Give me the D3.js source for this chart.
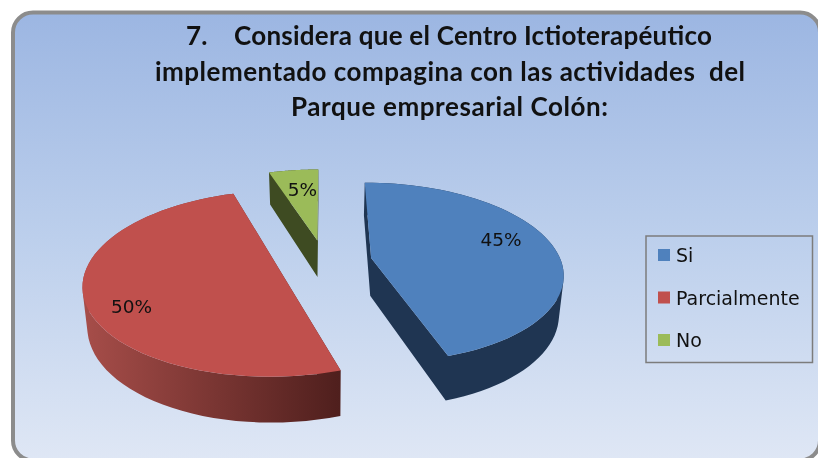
<!DOCTYPE html>
<html>
<head>
<meta charset="utf-8">
<script src="https://cdn.jsdelivr.net/npm/d3@7"></script>
<style>
    html, body { margin: 0; padding: 0; background: #fff; overflow: hidden; }
    svg { display: block; filter: blur(0.6px); }
</style>
</head>
<body>
<div id="graph"></div>
<script>
const categories = ["Si", "Parcialmente", "No"];
const values = [45, 50, 5];
const sliceColors = ["#4f81bd", "#c0504d", "#9bbb59"];
const titleLines = [
    "7.    Considera que el Centro Ictioterapéutico",
    "implementado compagina con las actividades  del",
    "Parque empresarial Colón:"
];

const width = 818;
const height = 458;

// pie is a flat disc seen in perspective, world units are pie radii
const explode = 0.25;
const tilt = 0.16;
const depth = 38;
const bottomShrink = 0.98;
const xScale = d3.scaleLinear().domain([-1, 1]).range([134.5, 514.5]);
const yScale = d3.scaleLinear().domain([-1, 1]).range([173, 350]);

function project(u, v) {
    let w = 1 - tilt * v;
    return {x: xScale(u / w), y: yScale(v / w), w: w};
}

// same point on the underside of the disc
function lower(p) {
    let x0 = xScale(0);
    return {x: x0 + (p.x - x0) * bottomShrink, y: p.y + depth / p.w};
}

function rimPoints(d) {
    let mid = (d.startAngle + d.endAngle) / 2;
    let ox = explode * Math.sin(mid);
    let oy = -explode * Math.cos(mid);
    let steps = d3.range(0, 61).map(i => d.startAngle + (d.endAngle - d.startAngle) * i / 60);
    let rim = steps.map(a => project(ox + Math.sin(a), oy - Math.cos(a)));
    return {apex: project(ox, oy), rim: rim};
}

let svg = d3.select("#graph").append("svg")
    .attr("width", width)
    .attr("height", height);

let defs = svg.append("defs");

let bg = defs.append("linearGradient")
    .attr("id", "bg")
    .attr("x1", 0).attr("y1", 0).attr("x2", 0).attr("y2", 1);
bg.append("stop").attr("offset", "0%").attr("stop-color", "#9cb6e2");
bg.append("stop").attr("offset", "50%").attr("stop-color", "#bccfec");
bg.append("stop").attr("offset", "100%").attr("stop-color", "#dfe7f5");

let redSide = defs.append("linearGradient")
    .attr("id", "side1")
    .attr("gradientUnits", "userSpaceOnUse")
    .attr("x1", 85).attr("y1", 0).attr("x2", 340).attr("y2", 0);
redSide.append("stop").attr("offset", "0%").attr("stop-color", "#a64d49");
redSide.append("stop").attr("offset", "100%").attr("stop-color", "#4f1f1d");

const sideFill = ["#1f3552", "url(#side1)", "#3e4b22"];

svg.append("rect")
    .attr("x", 13)
    .attr("y", 12.5)
    .attr("width", 807)
    .attr("height", 448)
    .attr("rx", 20)
    .attr("fill", "url(#bg)")
    .attr("stroke", "#8c8c8c")
    .attr("stroke-width", 4);

const titleX = [449, 450, 449.5];
const titleY = [44.5, 81, 116];
const titleWidth = [526, 590, 317];

svg.selectAll(".title")
    .data(titleLines)
    .enter().append("text")
    .attr("class", "title")
    .attr("x", (d, i) => titleX[i])
    .attr("y", (d, i) => titleY[i])
    .attr("text-anchor", "middle")
    .attr("textLength", (d, i) => titleWidth[i])
    .attr("lengthAdjust", "spacing")
    .style("white-space", "pre")
    .attr("font-family", "Lato, sans-serif")
    .attr("font-weight", "bold")
    .attr("font-size", 26)
    .attr("fill", "#111")
    .text(d => d);

let pie = d3.pie().sort(null).value(d => d);
let arcs = pie(values);
let line = d3.line().x(d => d.x).y(d => d.y);

// all quads wound the same way so they merge into one filled shape
function wallPath(outline) {
    return d3.pairs(outline).map(p => {
        let quad = [p[0], p[1], lower(p[1]), lower(p[0])];
        let area = d3.polygonArea(quad.map(q => [q.x, q.y]));
        if (area < 0) {
            quad.reverse();
        }
        return line(quad) + "Z";
    }).join("");
}

let slices = svg.selectAll(".slice")
    .data(arcs)
    .enter().append("g")
    .attr("class", "slice");

slices.each(function(d, i) {
    let g = d3.select(this);
    let pts = rimPoints(d);
    let outline = [pts.apex].concat(pts.rim, [pts.apex]);

    g.append("path")
        .attr("class", "wall")
        .attr("d", wallPath(outline))
        .attr("fill", sideFill[i])
        .attr("fill-rule", "nonzero");

    g.append("path")
        .attr("class", "top")
        .attr("d", line(outline) + "Z")
        .attr("fill", sliceColors[i]);
});

// data labels
const labelX = [501, 131.5, 302.5];
const labelY = [246, 312.5, 196];
svg.selectAll(".pct")
    .data(values)
    .enter().append("text")
    .attr("class", "pct")
    .attr("x", (d, i) => labelX[i])
    .attr("y", (d, i) => labelY[i])
    .attr("text-anchor", "middle")
    .attr("font-family", "'DejaVu Sans', sans-serif")
    .attr("font-size", 18.5)
    .attr("fill", "#111")
    .text(d => d + "%");

// legend
let legend = svg.append("g");
legend.append("rect")
    .attr("x", 646)
    .attr("y", 236)
    .attr("width", 166.5)
    .attr("height", 126.5)
    .attr("fill", "none")
    .attr("stroke", "#7c7c7c")
    .attr("stroke-width", 1.5);

let legendY = d3.scalePoint().domain(categories).range([255, 340]);

legend.selectAll(".swatch")
    .data(categories)
    .enter().append("rect")
    .attr("class", "swatch")
    .attr("x", 658)
    .attr("y", d => legendY(d) - 6)
    .attr("width", 12)
    .attr("height", 12)
    .attr("fill", (d, i) => sliceColors[i]);

legend.selectAll(".entry")
    .data(categories)
    .enter().append("text")
    .attr("class", "entry")
    .attr("x", 676)
    .attr("y", d => legendY(d) + 7)
    .attr("font-family", "'DejaVu Sans', sans-serif")
    .attr("font-size", 19)
    .attr("fill", "#111")
    .text(d => d);
</script>
</body>
</html>
